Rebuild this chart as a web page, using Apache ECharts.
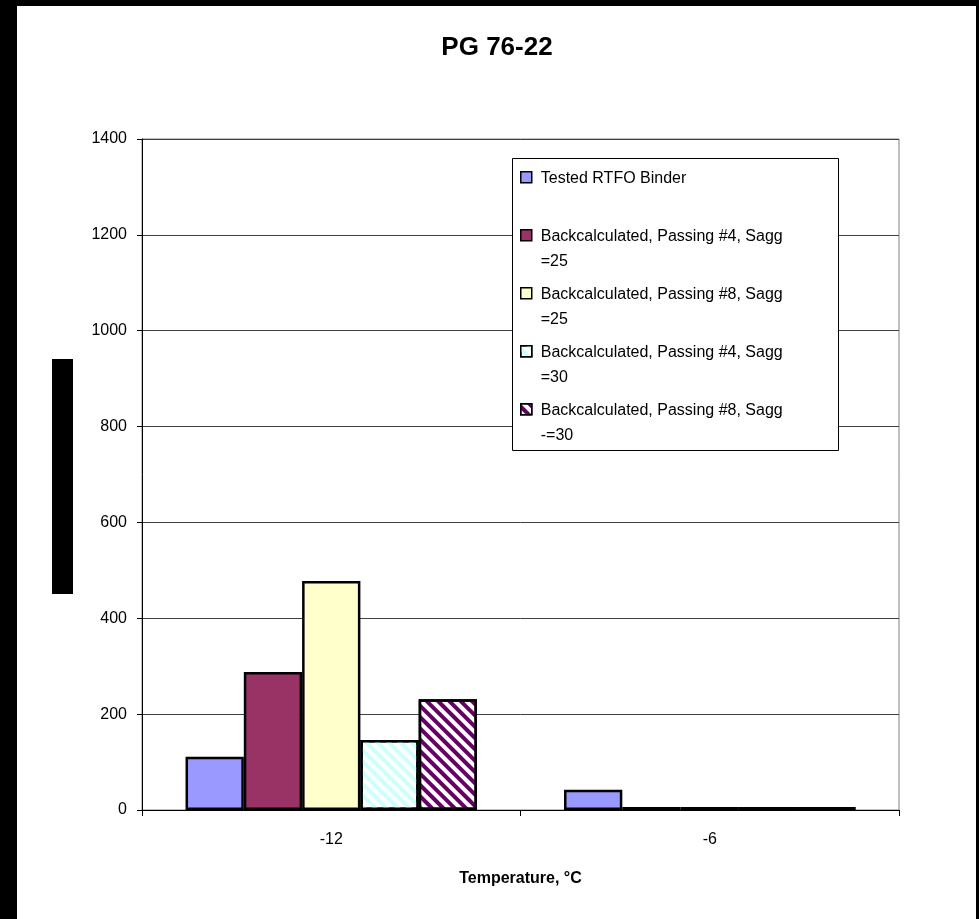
<!DOCTYPE html>
<html>
<head>
<meta charset="utf-8">
<title>PG 76-22</title>
<script src="https://cdn.jsdelivr.net/npm/echarts@6/dist/echarts.min.js"></script>
<style>
  html, body { margin: 0; padding: 0; background: #fff; }
  #chart { width: 979px; height: 919px; }
</style>
</head>
<body>
<div id="chart"></div>
<script>
// Test temperatures (category axis)
const temperatures = ['-12', '-6'];

// Series names as shown in the legend
const seriesNames = [
  'Tested RTFO Binder',
  'Backcalculated, Passing #4, Sagg =25',
  'Backcalculated, Passing #8, Sagg =25',
  'Backcalculated, Passing #4, Sagg =30',
  'Backcalculated, Passing #8, Sagg -=30'
];

// Values per temperature
const testedRtfo   = [111, 42];
const pass4Sagg25  = [288, 6];
const pass8Sagg25  = [478, 6];
const pass4Sagg30  = [146, 6];
const pass8Sagg30  = [231, 6];

// Value axis ticks
const yMin = 0;
const yMax = 1400;
const yStep = 200;

const FONT = 'Arial, "Liberation Sans", sans-serif';

// Diagonal hatch fill
function stripes(color) {
  return {
    symbol: 'rect',
    symbolSize: 1,
    symbolKeepAspect: false,
    dashArrayX: [10, 0],
    dashArrayY: [4, 4],
    rotation: Math.PI / 4,
    color: color
  };
}

const seriesData = [testedRtfo, pass4Sagg25, pass8Sagg25, pass4Sagg30, pass8Sagg30];
const fills = ['#9999FF', '#993366', '#FFFFCC', '#FFFFFF', '#FFFFFF'];
const decals = [null, null, null, stripes('#CCFFFF'), stripes('#660066')];

const series = seriesData.map((values, i) => {
  const itemStyle = { color: fills[i], borderColor: '#000', borderWidth: 2.5 };
  if (decals[i]) itemStyle.decal = decals[i];
  return {
    name: seriesNames[i],
    type: 'bar',
    data: values,
    barGap: '0%',
    barCategoryGap: '23%',
    itemStyle: itemStyle
  };
});

// Legend label: wrap the trailing "=nn" part onto a second line
function legendLabel(name) {
  const m = name.match(/^(.*) (-?=\d+)$/);
  return m ? m[1] + '\n' + m[2] : name + '\n ';
}

const chart = echarts.init(document.getElementById('chart'), null, { renderer: 'canvas' });

chart.setOption({
  backgroundColor: '#fff',
  animation: false,
  title: {
    text: 'PG 76-22',
    left: 497,
    top: 35,
    padding: 0,
    textAlign: 'center',
    textStyle: { fontFamily: FONT, fontSize: 26, fontWeight: 'bold', color: '#000' }
  },
  grid: {
    left: 142, right: 80, top: 139, bottom: 109,
    show: true, borderColor: '#808080', borderWidth: 1, backgroundColor: 'transparent'
  },
  legend: {
    orient: 'vertical',
    left: 520,
    top: 166,
    padding: 0,
    itemGap: 8,
    itemWidth: 11,
    itemHeight: 38.5,
    icon: 'path://M0 0H10V10H0Z M0 35',
    itemStyle: { borderColor: '#000', borderWidth: 1.5 },
    formatter: legendLabel,
    textStyle: { fontFamily: FONT, fontSize: 16, lineHeight: 25, color: '#000', padding: [0, 0, 0, 4] },
    selectedMode: false,
    data: seriesNames
  },
  xAxis: {
    type: 'category',
    data: temperatures,
    name: 'Temperature, °C',
    nameLocation: 'middle',
    nameGap: 61,
    nameTextStyle: { fontFamily: FONT, fontSize: 16, fontWeight: 'bold', color: '#000' },
    axisLine: { lineStyle: { color: '#000', width: 1 } },
    axisTick: { show: true, length: 6, lineStyle: { color: '#000' } },
    axisLabel: { fontFamily: FONT, fontSize: 16, color: '#000', margin: 22 },
    splitLine: { show: false }
  },
  yAxis: {
    type: 'value',
    min: yMin,
    max: yMax,
    interval: yStep,
    axisLine: { show: true, lineStyle: { color: '#000', width: 1 } },
    axisTick: { show: true, length: 5, lineStyle: { color: '#000' } },
    axisLabel: { fontFamily: FONT, fontSize: 16, color: '#000', margin: 15, formatter: v => String(v) },
    splitLine: { show: true, lineStyle: { color: '#404040', width: 1 } }
  },
  series: series,
  graphic: [
    // page frame
    { type: 'rect', shape: { x: 0, y: 0, width: 17, height: 919 }, style: { fill: '#000' }, z: 10 },
    { type: 'rect', shape: { x: 0, y: 0, width: 979, height: 6 }, style: { fill: '#000' }, z: 10 },
    { type: 'rect', shape: { x: 976, y: 0, width: 3, height: 919 }, style: { fill: '#000' }, z: 10 },
    // value axis title block
    { type: 'rect', shape: { x: 52, y: 359, width: 21, height: 235 }, style: { fill: '#000' }, z: 10 },
    // legend box
    { type: 'rect', shape: { x: 512.5, y: 158.5, width: 326, height: 292 }, style: { fill: '#fff', stroke: '#000', lineWidth: 1 }, z: 3 }
  ]
});
</script>
</body>
</html>
